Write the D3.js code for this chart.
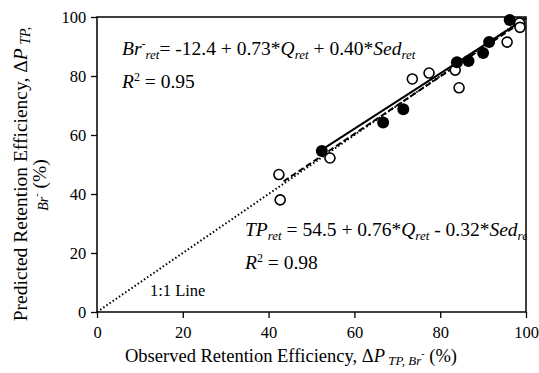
<!DOCTYPE html>
<html><head><meta charset="utf-8">
<script src="https://cdn.jsdelivr.net/npm/d3@7"></script>
<style>body{margin:0;background:#fff}svg{display:block}text,tspan{font-family:"Liberation Serif","Times New Roman",serif;fill:#000}</style>
</head><body>
<svg id="c" width="539" height="373" font-family="Liberation Serif"></svg>
<script>
const xTicks = [0, 20, 40, 60, 80, 100];
const yTicks = [0, 20, 40, 60, 80, 100];
const tpObserved  = [52.4, 66.7, 71.4, 83.9, 86.6, 90.0, 91.4, 96.2];
const tpPredicted = [54.6, 64.2, 68.7, 84.7, 85.1, 87.8, 91.5, 99.0];
const brObserved  = [42.4, 42.7, 54.3, 73.5, 77.4, 83.5, 84.4, 95.6, 98.5, 98.6];
const brPredicted = [46.6, 38.0, 52.2, 79.0, 81.0, 82.0, 76.0, 91.5, 98.0, 96.5];
const oneToOneX = [0, 100];
const oneToOneY = [0, 100];
const tpFitX = [52, 100];
const tpFitY = [54.6, 99.6];
const brFitX = [43.5, 99];
const brFitY = [44.3, 98.3];

const svg = d3.select("#c");
const L = 97, R = 526, T = 17, B = 312;
const x = d3.scaleLinear().domain([0, 100]).range([L, R]);
const y = d3.scaleLinear().domain([0, 100]).range([B, T]);
const SERIF = '"Liberation Serif","Times New Roman",serif';

svg.append("defs").append("clipPath").attr("id", "clip")
  .append("rect").attr("x", 0).attr("y", 0).attr("width", R + 1).attr("height", 373);

const gx = svg.append("g").attr("transform", `translate(0,${B})`)
  .call(d3.axisBottom(x).tickValues(xTicks).tickSize(6).tickSizeOuter(0).tickFormat(d3.format("d")));
const gy = svg.append("g").attr("transform", `translate(${L},0)`)
  .call(d3.axisLeft(y).tickValues(yTicks).tickSize(6).tickSizeOuter(0).tickFormat(d3.format("d")));
[gx, gy].forEach(g => {
  g.attr("font-family", null).attr("font-size", null);
  g.select(".domain").remove();
  g.selectAll("line").attr("stroke", "#000").attr("stroke-width", 1.3);
  g.selectAll("text").style("font-family", SERIF).style("font-size", "16.5px");
});
gx.selectAll("text").attr("dy", "1.05em");
gy.selectAll("text").attr("dx", "-0.1em");

const line = d3.line().x(d => x(d[0])).y(d => y(d[1]));
svg.append("path").datum(d3.zip(oneToOneX, oneToOneY)).attr("d", line)
  .attr("fill", "none").attr("stroke", "#000").attr("stroke-width", 2).attr("stroke-dasharray", "1.5,2.3");
svg.append("path").datum(d3.zip(brFitX, brFitY)).attr("d", line)
  .attr("fill", "none").attr("stroke", "#000").attr("stroke-width", 2).attr("stroke-dasharray", "6,3");
svg.append("path").datum(d3.zip(tpFitX, tpFitY)).attr("d", line)
  .attr("fill", "none").attr("stroke", "#000").attr("stroke-width", 2);

svg.append("g").selectAll("circle").data(d3.zip(brObserved, brPredicted)).join("circle")
  .attr("cx", d => x(d[0])).attr("cy", d => y(d[1])).attr("r", 5)
  .attr("fill", "#fff").attr("stroke", "#000").attr("stroke-width", 1.6);
svg.append("g").selectAll("circle").data(d3.zip(tpObserved, tpPredicted)).join("circle")
  .attr("cx", d => x(d[0])).attr("cy", d => y(d[1])).attr("r", 6)
  .attr("fill", "#000");

// equations
function eq(g, xx, yy, parts) {
  const t = g.append("text").attr("x", xx).attr("y", yy).style("font-family", SERIF).style("font-size", "19.5px");
  parts.forEach(p => {
    const s = t.append("tspan").text(p.t);
    if (p.i) s.style("font-style", "italic");
    if (p.fs) s.style("font-size", p.fs + "px");
    if (p.dy) s.attr("dy", p.dy);
  });
  return t;
}
const tg = svg.append("g").attr("clip-path", "url(#clip)");
eq(tg, 122, 55, [
  {t: "Br", i: 1}, {t: "-", fs: 12, dy: -7}, {t: "ret", i: 1, fs: 13, dy: 11},
  {t: "= -12.4 + 0.73*", dy: -4}, {t: "Q", i: 1}, {t: "ret", i: 1, fs: 13, dy: 4},
  {t: " + 0.40*", dy: -4}, {t: "Sed", i: 1}, {t: "ret", i: 1, fs: 13, dy: 4}
]);
eq(tg, 122, 88, [
  {t: "R", i: 1}, {t: "2", fs: 12, dy: -7}, {t: " = 0.95", dy: 7}
]);
eq(tg, 245, 236, [
  {t: "TP", i: 1}, {t: "ret", i: 1, fs: 13, dy: 4},
  {t: " = 54.5 + 0.76*", dy: -4}, {t: "Q", i: 1}, {t: "ret", i: 1, fs: 13, dy: 4},
  {t: " - 0.32*", dy: -4}, {t: "Sed", i: 1}, {t: "ret", i: 1, fs: 13, dy: 4}
]);
eq(tg, 245, 269, [
  {t: "R", i: 1}, {t: "2", fs: 12, dy: -7}, {t: " = 0.98", dy: 7}
]);
svg.append("text").attr("x", 150).attr("y", 296).style("font-family", SERIF).style("font-size", "16.5px").text("1:1 Line");

// frame
svg.append("rect").attr("x", L).attr("y", T).attr("width", R - L).attr("height", B - T)
  .attr("fill", "none").attr("stroke", "#000").attr("stroke-width", 1.5);

// axis titles
const xt = svg.append("text").attr("x", 291).attr("y", 362).attr("text-anchor", "middle")
  .style("font-family", SERIF).style("font-size", "18.5px");
xt.append("tspan").text("Observed Retention Efficiency, Δ");
xt.append("tspan").text("P").style("font-style", "italic");
xt.append("tspan").text(" ").style("font-size", "13px");
xt.append("tspan").text("TP, Br").style("font-style", "italic").style("font-size", "13px").attr("dy", 3);
xt.append("tspan").text("-").style("font-size", "10px").attr("dy", -8);
xt.append("tspan").text(" (%)").attr("dy", 5);

const yt = svg.append("text").attr("transform", "translate(27,174) rotate(-90)").attr("text-anchor", "middle")
  .style("font-family", SERIF).style("font-size", "19.5px");
yt.append("tspan").text("Predicted Retention Efficiency, Δ");
yt.append("tspan").text("P").style("font-style", "italic");
yt.append("tspan").text(" TP,").style("font-style", "italic").style("font-size", "14px").attr("dy", 3);
const yt2 = svg.append("text").attr("transform", "translate(46,185) rotate(-90)").attr("text-anchor", "middle")
  .style("font-family", SERIF).style("font-size", "19.5px");
yt2.append("tspan").text("Br").style("font-style", "italic").style("font-size", "14px").attr("dy", 2);
yt2.append("tspan").text("-").style("font-size", "10px").attr("dy", -8);
yt2.append("tspan").text(" (%)").attr("dy", 6);
</script>
</body></html>
